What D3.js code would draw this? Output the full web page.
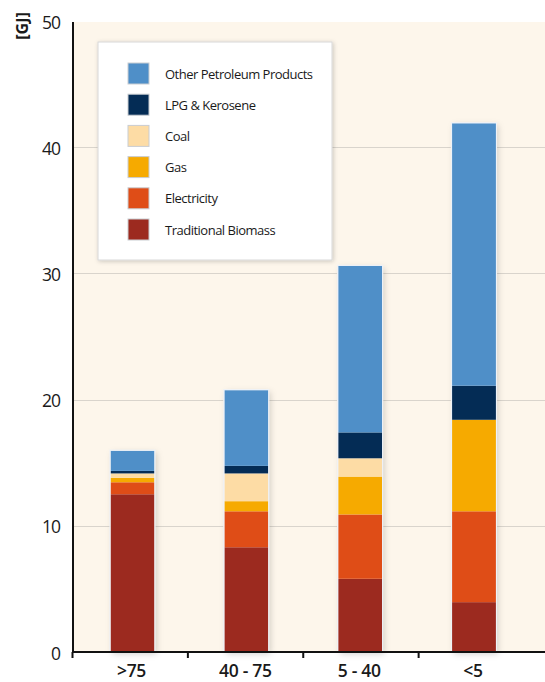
<!DOCTYPE html>
<html>
<head>
<meta charset="utf-8">
<script src="https://cdn.jsdelivr.net/npm/d3@7"></script>
<style>
  html, body { margin: 0; padding: 0; background: #ffffff; }
  svg { display: block; }
  text { font-family: "Open Sans", "Noto Sans", sans-serif; fill: #1a1a1a; }
</style>
</head>
<body>
<svg id="chart" width="545" height="682"></svg>
<script>
// Income groups (categories along the x axis)
const categories = [">75", "40 - 75", "5 - 40", "<5"];

// Energy use per series, in GJ, one value per category
const traditionalBiomass = [12.5, 8.3, 5.8, 3.95];
const electricity        = [0.95, 2.85, 5.1, 7.2];
const gas                = [0.35, 0.8, 3.0, 7.25];
const coal               = [0.35, 2.2, 1.45, 0.0];
const lpgKerosene        = [0.2, 0.6, 2.05, 2.7];
const otherPetroleum     = [1.6, 6.0, 13.2, 20.8];

// Series, stacked bottom to top
const seriesNames  = ["Traditional Biomass", "Electricity", "Gas", "Coal", "LPG & Kerosene", "Other Petroleum Products"];
const seriesValues = [traditionalBiomass, electricity, gas, coal, lpgKerosene, otherPetroleum];
const seriesColors = ["#9c2a1f", "#df4d17", "#f6aa00", "#fddca5", "#042c55", "#4f8fc8"];

// Y axis ticks and unit label
const yTicks = [0, 10, 20, 30, 40, 50];
const yUnit = "[GJ]";

const svg = d3.select("#chart");
const W = 545;
const margin = { left: 73, top: 22 };
const plotBottom = 652;

const rows = categories.map((c, i) => {
  const r = { cat: c };
  seriesNames.forEach((s, k) => { r[s] = seriesValues[k][i]; });
  return r;
});
const stacked = d3.stack().keys(seriesNames)(rows);
const totals = stacked[stacked.length - 1].map(p => p[1]);

// Band scale for the axis tick divisions, point scale for bar centres
const x = d3.scaleBand().domain(categories).range([margin.left - 0.5, 534]).padding(0);
const xc = d3.scalePoint().domain(categories).range([132.5, 474]);
const y = d3.scaleLinear().domain([0, 50]).range([plotBottom, 21]);
const color = d3.scaleOrdinal().domain(seriesNames).range(seriesColors);

const defs = svg.append("defs");
const shadow = defs.append("filter").attr("id", "barShadow")
  .attr("x", "-40%").attr("y", "-10%").attr("width", "180%").attr("height", "120%");
shadow.append("feDropShadow").attr("dx", 2).attr("dy", 2).attr("stdDeviation", 3)
  .attr("flood-color", "#000").attr("flood-opacity", 0.18);
const legShadow = defs.append("filter").attr("id", "legShadow")
  .attr("x", "-10%").attr("y", "-10%").attr("width", "120%").attr("height", "120%");
legShadow.append("feDropShadow").attr("dx", 1).attr("dy", 1).attr("stdDeviation", 2)
  .attr("flood-color", "#000").attr("flood-opacity", 0.2);

// Plot background
svg.append("rect")
  .attr("x", margin.left).attr("y", margin.top)
  .attr("width", W - margin.left).attr("height", plotBottom - margin.top)
  .attr("fill", "#fdf6eb");

// Horizontal gridlines
svg.append("g").selectAll("line")
  .data(yTicks.filter(t => t > 0 && t < 50))
  .join("line")
  .attr("x1", margin.left).attr("x2", W)
  .attr("y1", d => Math.round(y(d)) + 0.5).attr("y2", d => Math.round(y(d)) + 0.5)
  .attr("stroke", "#d9d4cc").attr("stroke-width", 1.2);

// Bars
const barW = 44;
const barX = c => xc(c) - barW / 2;

const barGroups = svg.append("g");
// soft shadow under each whole bar
barGroups.selectAll("rect.shadow")
  .data(categories)
  .join("rect")
  .attr("class", "shadow")
  .attr("x", c => barX(c))
  .attr("width", barW)
  .attr("y", (c, i) => y(totals[i]))
  .attr("height", (c, i) => y(0) - y(totals[i]))
  .attr("fill", "#ffffff")
  .attr("filter", "url(#barShadow)");

barGroups.selectAll("g.layer")
  .data(stacked)
  .join("g")
  .attr("class", "layer")
  .attr("fill", d => color(d.key))
  .selectAll("rect")
  .data(d => d.filter(p => p[1] - p[0] > 0))
  .join("rect")
  .attr("x", d => barX(d.data.cat))
  .attr("width", barW)
  .attr("y", d => y(d[1]))
  .attr("height", d => y(d[0]) - y(d[1]));

// thin light outline around each bar
barGroups.selectAll("rect.outline")
  .data(categories)
  .join("rect")
  .attr("class", "outline")
  .attr("x", c => barX(c) - 0.5)
  .attr("width", barW + 1)
  .attr("y", (c, i) => y(totals[i]) - 0.5)
  .attr("height", (c, i) => y(0) - y(totals[i]) + 0.5)
  .attr("fill", "none")
  .attr("stroke", "#eef2f7").attr("stroke-width", 1.2);

// Legend
const legX = 98, legY = 42, legW = 234, legH = 218;
const leg = svg.append("g");
leg.append("rect")
  .attr("x", legX).attr("y", legY).attr("width", legW).attr("height", legH)
  .attr("fill", "#ffffff").attr("stroke", "#d8d8d8").attr("stroke-width", 1)
  .attr("filter", "url(#legShadow)");
const legendOrder = seriesNames.slice().reverse();
const legItems = leg.selectAll("g.item")
  .data(legendOrder)
  .join("g")
  .attr("class", "item")
  .attr("transform", (d, i) => `translate(${legX + 30},${legY + 21 + i * 31.2})`);
legItems.append("rect")
  .attr("width", 21).attr("height", 21)
  .attr("fill", d => color(d))
  .attr("stroke", "#c9cdd2").attr("stroke-width", 1);
legItems.append("text")
  .attr("x", 37).attr("y", 15.5)
  .attr("font-size", 13)
  .attr("letter-spacing", -0.5)
  .text(d => d);

// Y axis
const yAxis = svg.append("g");
yAxis.append("line")
  .attr("x1", margin.left).attr("x2", margin.left)
  .attr("y1", margin.top).attr("y2", plotBottom + 1)
  .attr("stroke", "#111").attr("stroke-width", 2);
yAxis.selectAll("text")
  .data(yTicks)
  .join("text")
  .attr("x", 60).attr("y", d => y(d) + 7.5)
  .attr("text-anchor", "end")
  .attr("font-size", 17.5)
  .attr("letter-spacing", -1)
  .text(d => d3.format("d")(d));

svg.append("text")
  .attr("transform", `translate(28,26) rotate(-90)`)
  .attr("text-anchor", "middle")
  .attr("font-size", 16)
  .attr("font-weight", 700)
  .text(yUnit);

// X axis
const xAxis = svg.append("g");
xAxis.append("line")
  .attr("x1", margin.left - 1).attr("x2", W)
  .attr("y1", plotBottom).attr("y2", plotBottom)
  .attr("stroke", "#111").attr("stroke-width", 2);
xAxis.selectAll("line.tick")
  .data(categories)
  .join("line")
  .attr("class", "tick")
  .attr("x1", c => x(c)).attr("x2", c => x(c))
  .attr("y1", plotBottom).attr("y2", plotBottom + 6)
  .attr("stroke", "#111").attr("stroke-width", 2);
xAxis.selectAll("text")
  .data(categories)
  .join("text")
  .attr("x", c => xc(c) - 1)
  .attr("y", 677)
  .attr("text-anchor", "middle")
  .attr("font-size", 17.5)
  .attr("font-weight", 600)
  .attr("letter-spacing", -0.3)
  .text(c => c);
</script>
</body>
</html>
